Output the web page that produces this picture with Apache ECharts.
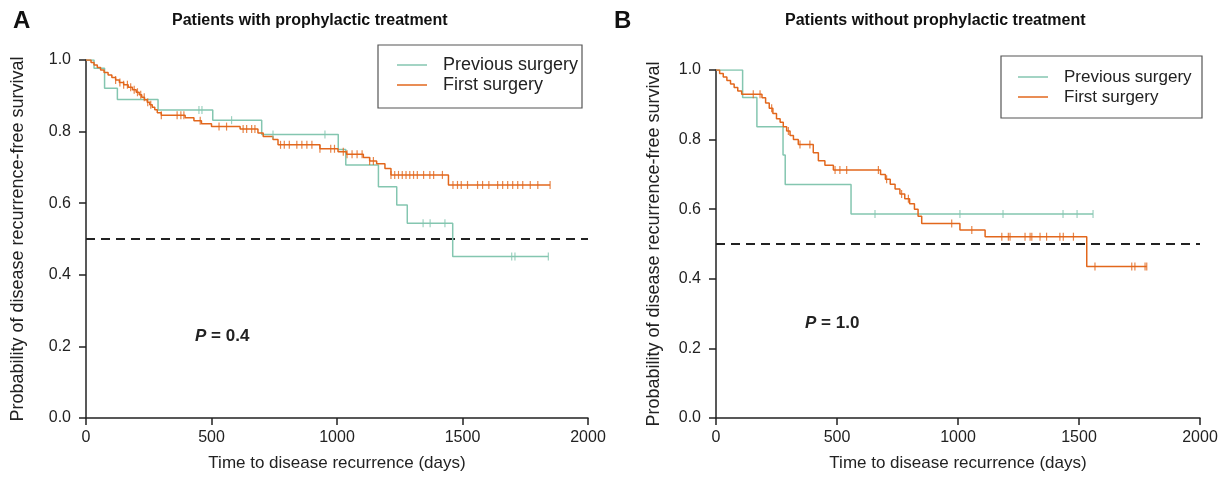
<!DOCTYPE html>
<html>
<head>
<meta charset="utf-8">
<script src="https://cdn.jsdelivr.net/npm/echarts@6/dist/echarts.min.js"></script>
<style>html,body{margin:0;padding:0;background:#fff}#c{width:1228px;height:492px}</style>
</head>
<body>
<div id="c"></div>
<script>
// ---------- data ----------
const xTickValues = [0, 500, 1000, 1500, 2000];
const yTickLabels = ['0.0', '0.2', '0.4', '0.6', '0.8', '1.0'];
const seriesNames = ['Previous surgery', 'First surgery'];
const panelTitles = ['Patients with prophylactic treatment', 'Patients without prophylactic treatment'];
const panelLetters = ['A', 'B'];
const pValues = ['0.4', '1.0'];
const refLevel = 0.5;

// Panel A: previous surgery
const prevA_time = [0, 32, 74, 125, 287, 505, 700, 1005, 1035, 1165, 1238, 1280, 1461, 1842];
const prevA_surv = [1.0, 0.977, 0.921, 0.890, 0.860, 0.832, 0.792, 0.750, 0.707, 0.646, 0.595, 0.544, 0.451, 0.451];
const prevA_cens = [450, 462, 580, 745, 952, 1343, 1371, 1430, 1696, 1709, 1842];

// Panel A: first surgery
const firstA_time = [0, 20, 32, 45, 58, 72, 88, 103, 118, 133, 150, 168, 185, 200, 212, 222, 233, 244, 254, 264, 274, 284, 300, 395, 430, 460, 500, 614, 685, 706, 745, 765, 932, 1004, 1038, 1105, 1130, 1158, 1191, 1215, 1444, 1849];
const firstA_surv = [1.0, 0.993, 0.986, 0.979, 0.972, 0.965, 0.958, 0.951, 0.944, 0.937, 0.931, 0.924, 0.917, 0.910, 0.903, 0.896, 0.889, 0.882, 0.875, 0.868, 0.861, 0.853, 0.846, 0.839, 0.830, 0.822, 0.814, 0.807, 0.796, 0.786, 0.778, 0.763, 0.752, 0.744, 0.737, 0.728, 0.718, 0.710, 0.697, 0.679, 0.651, 0.651];
const firstA_cens = [118, 135, 150, 165, 178, 192, 205, 218, 232, 246, 258, 300, 363, 378, 390, 455, 530, 560, 626, 640, 660, 673, 775, 790, 810, 840, 860, 880, 900, 932, 975, 990, 1025, 1040, 1060, 1080, 1100, 1130, 1145, 1215, 1230, 1245, 1260, 1275, 1290, 1305, 1320, 1345, 1370, 1385, 1420, 1462, 1480, 1495, 1520, 1560, 1580, 1605, 1640, 1660, 1680, 1700, 1720, 1740, 1770, 1800, 1849];

// Panel B: previous surgery
const prevB_time = [0, 110, 169, 277, 286, 558, 1558];
const prevB_surv = [1.0, 0.921, 0.837, 0.756, 0.671, 0.586, 0.586];
const prevB_cens = [657, 1008, 1186, 1434, 1492, 1558];

// Panel B: first surgery
const firstB_time = [0, 15, 30, 45, 60, 75, 90, 106, 190, 205, 220, 235, 250, 265, 278, 292, 306, 320, 340, 402, 423, 450, 485, 680, 700, 720, 740, 760, 780, 800, 820, 835, 850, 1008, 1112, 1532, 1780];
const firstB_surv = [1.0, 0.99, 0.98, 0.97, 0.96, 0.95, 0.94, 0.93, 0.92, 0.905, 0.89, 0.875, 0.86, 0.85, 0.837, 0.825, 0.812, 0.80, 0.786, 0.762, 0.739, 0.726, 0.713, 0.70, 0.686, 0.672, 0.658, 0.644, 0.63, 0.616, 0.600, 0.58, 0.559, 0.540, 0.521, 0.435, 0.435];
const firstB_cens = [154, 182, 230, 299, 347, 388, 492, 512, 540, 671, 705, 767, 795, 974, 1057, 1181, 1208, 1215, 1277, 1298, 1305, 1339, 1366, 1421, 1435, 1477, 1566, 1718, 1731, 1773, 1780];

// ---------- helpers ----------
const GREEN = '#84c6b0';
const ORANGE = '#e2671c';
const INK = '#222';
const FONT = 'Liberation Sans, Arial, sans-serif';

function pairs(t, s) { return t.map((v, i) => [v, s[i]]); }
function survAt(t, s, x) { let v = s[0]; for (let i = 0; i < t.length; i++) { if (t[i] <= x) v = s[i]; } return v; }
function censPts(t, s, c) { return c.map(x => [x, survAt(t, s, x)]); }

function kmLine(name, t, s, color, idx) {
  return { type: 'line', name: name, step: 'end', data: pairs(t, s), xAxisIndex: idx, yAxisIndex: idx,
    symbol: 'none', lineStyle: { color: color, width: 1.5 }, itemStyle: { color: color }, silent: true, z: 3 };
}
function kmCens(name, t, s, c, color, idx) {
  return { type: 'scatter', name: name, data: censPts(t, s, c), xAxisIndex: idx, yAxisIndex: idx,
    symbol: 'rect', symbolSize: [1.2, 8], itemStyle: { color: color }, silent: true, z: 3 };
}
function refLine(idx) {
  return { type: 'line', name: 'ref', data: [[xTickValues[0], refLevel], [xTickValues[xTickValues.length - 1], refLevel]],
    xAxisIndex: idx, yAxisIndex: idx, symbol: 'none', silent: true,
    lineStyle: { color: INK, width: 2, type: [9, 6] }, z: 2 };
}

const grids = [
  { left: 86, top: 60, width: 502, height: 358 },
  { left: 716, top: 70, width: 484, height: 348 }
];

function xAx(idx) {
  return { type: 'value', gridIndex: idx, min: 0, max: 2000, interval: 500,
    name: 'Time to disease recurrence (days)', nameLocation: 'middle', nameGap: 37,
    nameTextStyle: { fontSize: 17, color: INK, fontFamily: FONT },
    axisLine: { show: true, onZero: false, lineStyle: { color: INK, width: 1.5 } },
    axisTick: { show: true, length: 7, lineStyle: { color: INK, width: 1.5 } },
    axisLabel: { fontSize: 16, color: INK, fontFamily: FONT, margin: 12, formatter: v => String(v) },
    splitLine: { show: false } };
}
function yAx(idx, gap) {
  return { type: 'value', gridIndex: idx, min: 0, max: 1, interval: 0.2,
    name: 'Probability of disease recurrence-free survival', nameLocation: 'middle', nameGap: gap,
    nameTextStyle: { fontSize: 18, color: INK, fontFamily: FONT },
    axisLine: { show: true, onZero: false, lineStyle: { color: INK, width: 1.5 } },
    axisTick: { show: true, length: 7, lineStyle: { color: INK, width: 1.5 } },
    axisLabel: { fontSize: 16, color: INK, fontFamily: FONT, margin: 15,
      formatter: v => yTickLabels[Math.round(v / 0.2)] },
    splitLine: { show: false } };
}

function legendAt(left, top, size) {
  return { data: seriesNames, orient: 'vertical', left: left, top: top, icon: 'rect',
    itemWidth: 30, itemHeight: 1.5, itemGap: 0, padding: 0, selectedMode: false,
    textStyle: { fontSize: size, color: INK, fontFamily: FONT, lineHeight: 20, padding: [0, 0, 0, 11] } };
}

const option = {
  animation: false,
  backgroundColor: '#fff',
  title: [
    { text: panelLetters[0], left: 8, top: 4, textStyle: { fontSize: 24, fontWeight: 'bold', color: '#111', fontFamily: FONT } },
    { text: panelLetters[1], left: 609, top: 4, textStyle: { fontSize: 24, fontWeight: 'bold', color: '#111', fontFamily: FONT } },
    { text: panelTitles[0], left: 167, top: 8, textStyle: { fontSize: 16, fontWeight: 'bold', color: '#111', fontFamily: FONT } },
    { text: panelTitles[1], left: 780, top: 8, textStyle: { fontSize: 16, fontWeight: 'bold', color: '#111', fontFamily: FONT } }
  ],
  legend: [legendAt(397, 55, 18), legendAt(1018, 67, 17)],
  grid: grids,
  xAxis: [xAx(0), xAx(1)],
  yAxis: [yAx(0, 59), yAx(1, 53)],
  graphic: [
    { type: 'rect', shape: { x: 378, y: 45, width: 204, height: 63 }, style: { fill: 'none', stroke: '#555', lineWidth: 1.2 }, silent: true },
    { type: 'rect', shape: { x: 1001, y: 56, width: 201, height: 62 }, style: { fill: 'none', stroke: '#555', lineWidth: 1.2 }, silent: true },
    { type: 'text', left: 195, top: 328, style: { text: '{i|P} = ' + pValues[0], fill: INK, font: 'bold 17px ' + FONT,
      rich: { i: { fontStyle: 'italic', fontWeight: 'bold', fontSize: 17, fontFamily: FONT, fill: INK } } } },
    { type: 'text', left: 805, top: 315, style: { text: '{i|P} = ' + pValues[1], fill: INK, font: 'bold 17px ' + FONT,
      rich: { i: { fontStyle: 'italic', fontWeight: 'bold', fontSize: 17, fontFamily: FONT, fill: INK } } } }
  ],
  series: [
    refLine(0),
    kmLine(seriesNames[0], prevA_time, prevA_surv, GREEN, 0),
    kmCens(seriesNames[0], prevA_time, prevA_surv, prevA_cens, GREEN, 0),
    kmLine(seriesNames[1], firstA_time, firstA_surv, ORANGE, 0),
    kmCens(seriesNames[1], firstA_time, firstA_surv, firstA_cens, ORANGE, 0),
    refLine(1),
    kmLine(seriesNames[0], prevB_time, prevB_surv, GREEN, 1),
    kmCens(seriesNames[0], prevB_time, prevB_surv, prevB_cens, GREEN, 1),
    kmLine(seriesNames[1], firstB_time, firstB_surv, ORANGE, 1),
    kmCens(seriesNames[1], firstB_time, firstB_surv, firstB_cens, ORANGE, 1)
  ]
};

const chart = echarts.init(document.getElementById('c'), null, { renderer: 'canvas' });
chart.setOption(option);
</script>
</body>
</html>
